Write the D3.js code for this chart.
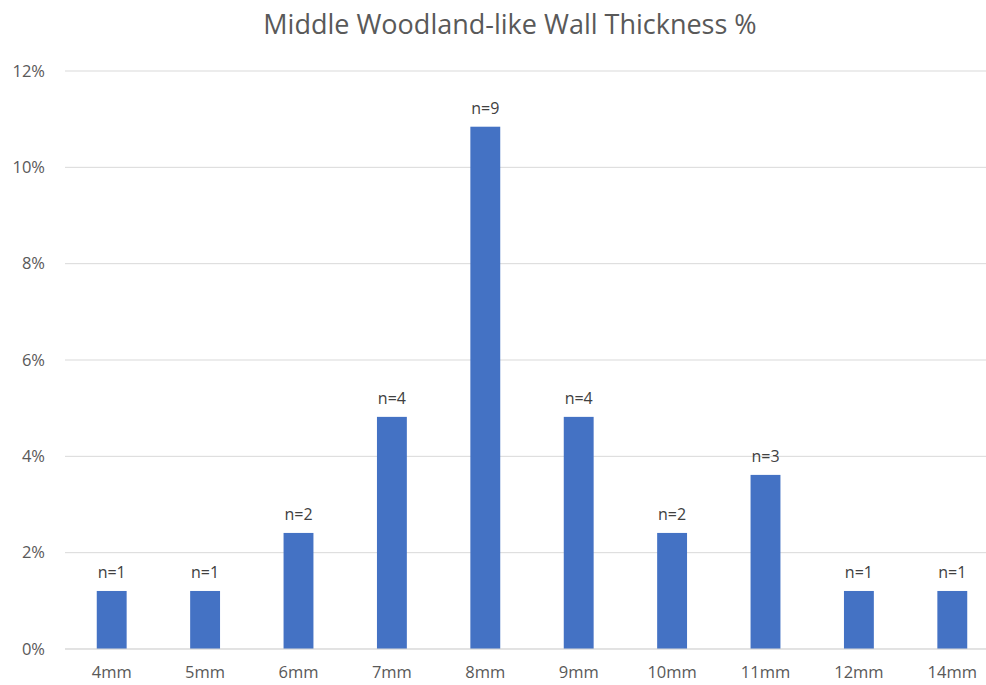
<!DOCTYPE html>
<html>
<head>
<meta charset="utf-8">
<script src="https://cdn.jsdelivr.net/npm/d3@7"></script>
<style>
  html, body { margin: 0; padding: 0; background: #fff; }
  svg { display: block; font-family: "Open Sans", "Noto Sans", sans-serif; }
</style>
</head>
<body>
<svg id="chart" width="986" height="685"></svg>
<script>
// Wall thickness categories and sherd counts (83 sherds in total)
const categories = ["4mm", "5mm", "6mm", "7mm", "8mm", "9mm", "10mm", "11mm", "12mm", "14mm"];
const counts = [1, 1, 2, 4, 9, 4, 2, 3, 1, 1];
const total = 83;
const percents = counts.map(c => c / total * 100);
const labels = counts.map(c => "n=" + c);
const yTicks = [0, 2, 4, 6, 8, 10, 12];

const svg = d3.select("#chart");
const margin = { left: 65, right: -13, top: 71, bottom: 36 };
const W = 986, H = 685;

const x = d3.scaleBand()
  .domain(categories)
  .range([margin.left, W - margin.right])
  .paddingInner(0.68)
  .paddingOuter(0.34);

const y = d3.scaleLinear()
  .domain([0, 12])
  .range([H - margin.bottom, margin.top]);

// Title
svg.append("text")
  .attr("x", 510).attr("y", 34)
  .attr("text-anchor", "middle")
  .attr("fill", "#595959")
  .attr("font-size", 27)
  .text("Middle Woodland-like Wall Thickness %");

// Gridlines
svg.append("g")
  .selectAll("line")
  .data(yTicks)
  .join("line")
  .attr("x1", margin.left).attr("x2", W - margin.right)
  .attr("y1", d => y(d)).attr("y2", d => y(d))
  .attr("stroke", "#d9d9d9").attr("stroke-width", 1);

// Y axis labels
const yAxis = d3.axisLeft(y).tickValues(yTicks).tickFormat(d => d + "%").tickSize(0).tickPadding(20);
const gy = svg.append("g").attr("transform", `translate(${margin.left},0)`).call(yAxis);
gy.select(".domain").remove();
gy.selectAll("text").attr("fill", "#595959").attr("font-size", 16.5).attr("font-family", "Open Sans, sans-serif");

// X axis labels
const xAxis = d3.axisBottom(x).tickSize(0).tickPadding(17);
const gx = svg.append("g").attr("transform", `translate(0,${y(0)})`).call(xAxis);
gx.select(".domain").remove();
gx.selectAll("text").attr("fill", "#595959").attr("font-size", 16.5).attr("font-family", "Open Sans, sans-serif");

// Bars
svg.append("g")
  .selectAll("rect")
  .data(categories)
  .join("rect")
  .attr("x", d => x(d))
  .attr("width", x.bandwidth())
  .attr("y", (d, i) => y(percents[i]))
  .attr("height", (d, i) => y(0) - y(percents[i]))
  .attr("fill", "#4472c4");

// Baseline over bars
svg.append("line")
  .attr("x1", margin.left).attr("x2", W - margin.right)
  .attr("y1", y(0)).attr("y2", y(0))
  .attr("stroke", "#d9d9d9");

// Count labels
svg.append("g")
  .selectAll("text")
  .data(categories)
  .join("text")
  .attr("x", d => x(d) + x.bandwidth() / 2)
  .attr("y", (d, i) => y(percents[i]) - 13)
  .attr("text-anchor", "middle")
  .attr("fill", "#404040")
  .attr("font-size", 16)
  .text((d, i) => labels[i]);
</script>
</body>
</html>
